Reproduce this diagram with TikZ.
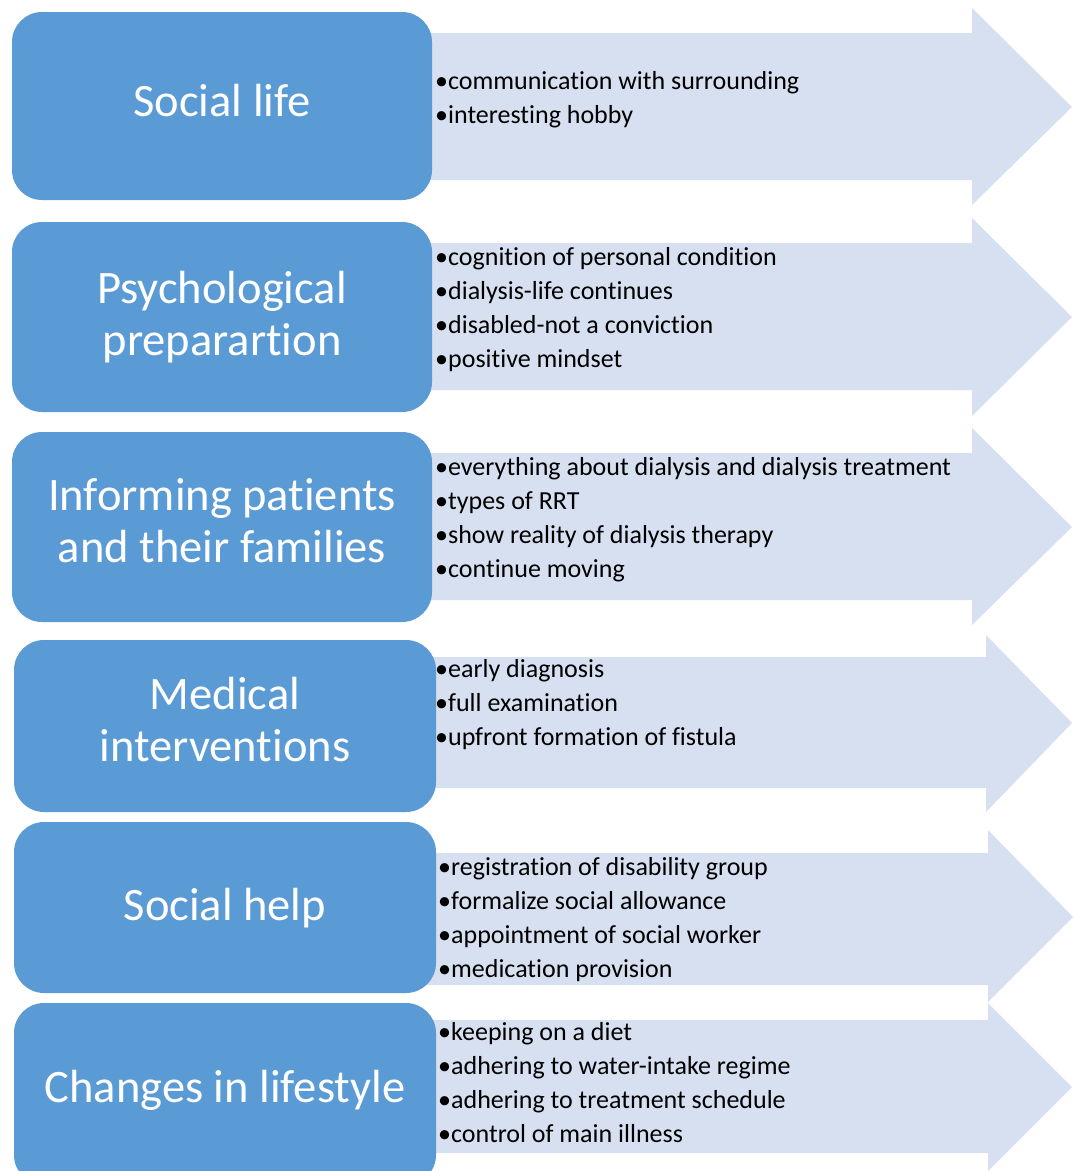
\documentclass[tikz,border=0pt]{standalone}
\usepackage{fontspec}
\setmainfont{Carlito}[Ligatures=NoCommon]
\usepackage{tikz}

\definecolor{boxblue}{HTML}{5B9BD5}
\definecolor{arrowblue}{HTML}{D6E0F0}

\tikzset{
  titlebox/.style={fill=boxblue, rounded corners=30pt},
  listarrow/.style={fill=arrowblue},
  boxlabel/.style={text=white, align=center, inner sep=0pt, font=\fontsize{46.5}{52}\selectfont},
  itemlist/.style={anchor=north west, inner sep=0pt, align=left, font=\fontsize{26}{34}\selectfont}
}

\begin{document}
\begin{tikzpicture}[x=1pt,y=-1pt]
\useasboundingbox (0,0) rectangle (1074,1171);

\fill[listarrow] (400,33) -- (972,33) -- (972,8) -- (1072,107) -- (972,205) -- (972,180) -- (400,180) -- cycle;
\fill[listarrow] (400,243) -- (972,243) -- (972,218) -- (1072,317) -- (972,416) -- (972,390) -- (400,390) -- cycle;
\fill[listarrow] (400,453) -- (972,453) -- (972,428) -- (1072,527) -- (972,625) -- (972,600) -- (400,600) -- cycle;
\fill[listarrow] (400,657) -- (986,657) -- (986,635) -- (1072,723) -- (986,812) -- (986,788) -- (400,788) -- cycle;
\fill[listarrow] (400,853) -- (988,853) -- (988,830) -- (1073,917) -- (988,1002) -- (988,985) -- (400,985) -- cycle;
\fill[listarrow] (400,1020) -- (988,1020) -- (988,1003) -- (1072,1087) -- (988,1171) -- (988,1153) -- (400,1153) -- cycle;

\fill[titlebox] (12,12) rectangle (432,200);
\fill[titlebox] (12,222) rectangle (432,412);
\fill[titlebox] (12,432) rectangle (432,622);
\fill[titlebox] (14,640) rectangle (436,812);
\fill[titlebox] (14,822) rectangle (436,993);
\fill[titlebox] (14,1003) rectangle (436,1185);

\node[boxlabel] (social) at (222,100.5) {Social life};
\node[boxlabel] (psych) at (222,317) {Psychological\\preparartion};
\node[boxlabel] (inform) at (222,521) {Informing patients\\and their families};
\node[boxlabel] (medical) at (225,720) {Medical\\interventions};
\node[boxlabel] (help) at (225,908.5) {Social help};
\node[boxlabel] (lifestyle) at (225,1090.5) {Changes in lifestyle};

\node[itemlist] (socialitems) at (435,71) {•communication with surrounding\\•interesting hobby};
\node[itemlist] (psychitems) at (435,247) {•cognition of personal condition\\•dialysis-life continues\\•disabled-not a conviction\\•positive mindset};
\node[itemlist] (informitems) at (435,457) {•everything about dialysis and dialysis treatment\\•types of RRT\\•show reality of dialysis therapy\\•continue moving};
\node[itemlist] (medicalitems) at (435,659) {•early diagnosis\\•full examination\\•upfront formation of fistula};
\node[itemlist] (helpitems) at (438,857) {•registration of disability group\\•formalize social allowance\\•appointment of social worker\\•medication provision};
\node[itemlist] (lifestyleitems) at (438,1022) {•keeping on a diet\\•adhering to water-intake regime\\•adhering to treatment schedule\\•control of main illness};
\end{tikzpicture}
\end{document}
